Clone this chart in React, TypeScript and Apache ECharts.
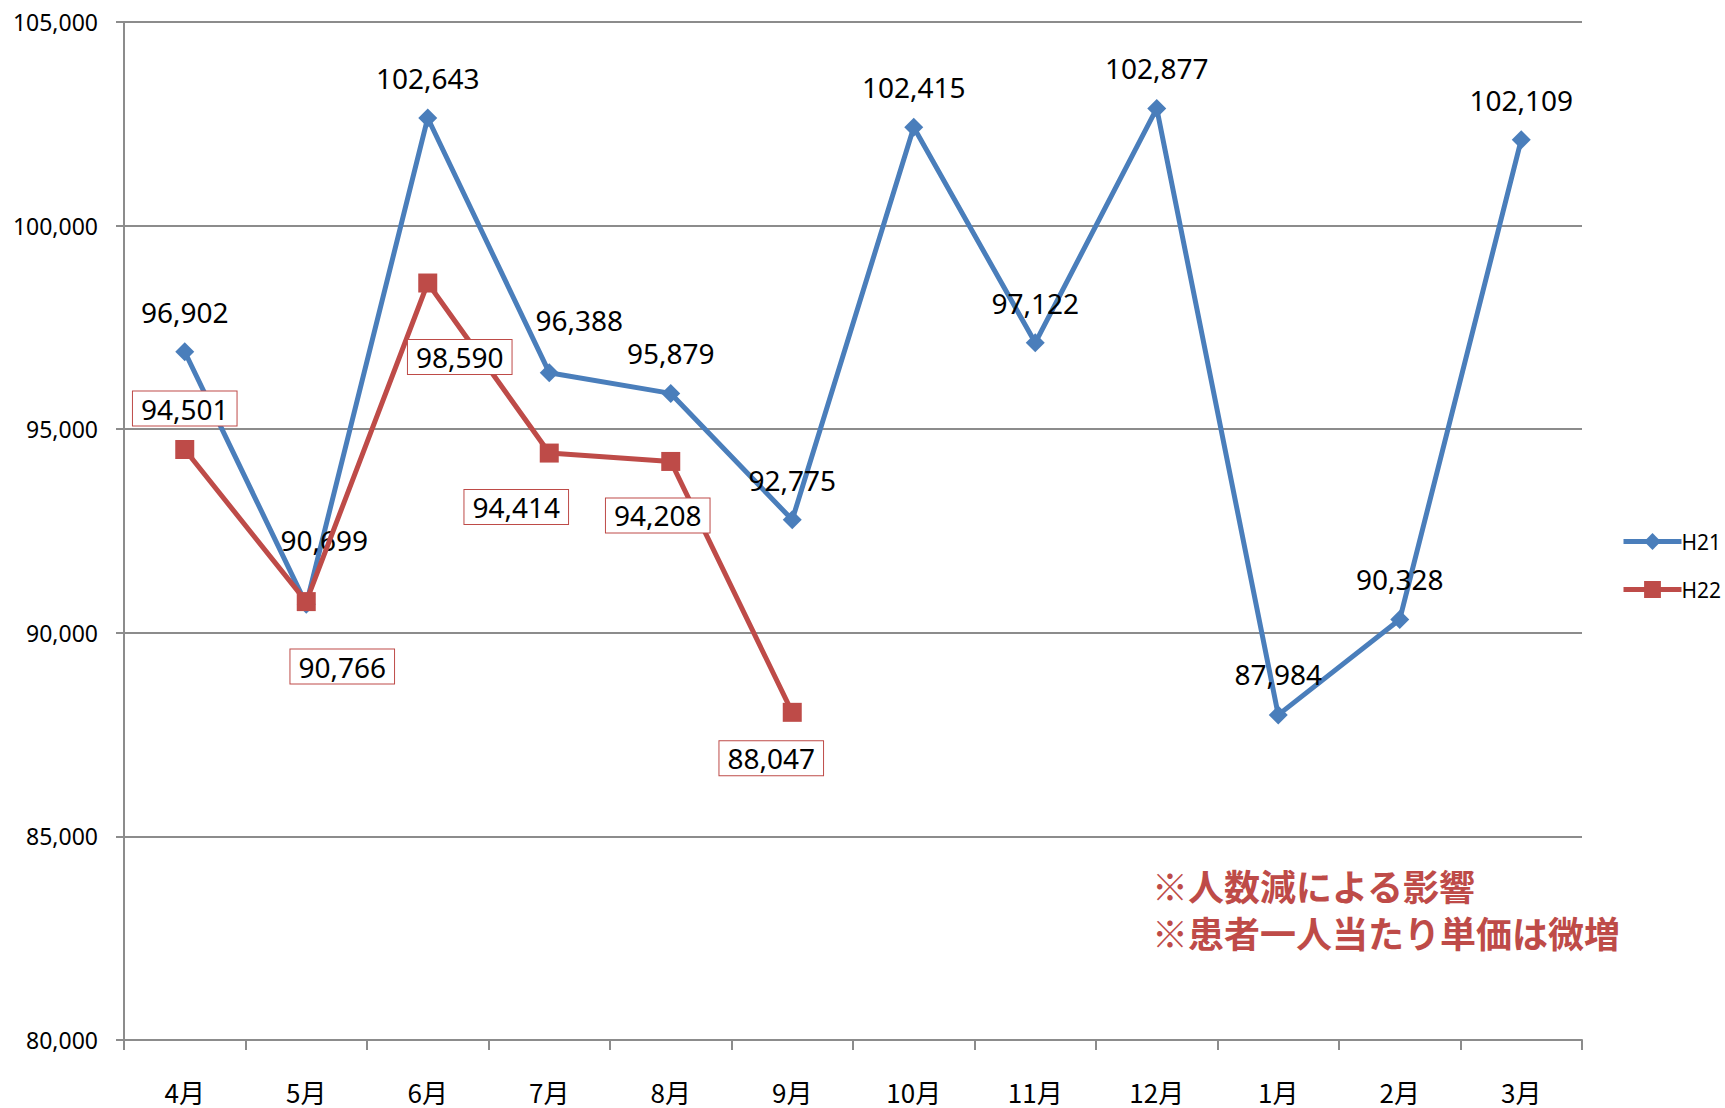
import React, { useEffect, useRef } from "react";
import * as echarts from "echarts";

// Monthly figures, fiscal year order (April → March)
const months = ["4月", "5月", "6月", "7月", "8月", "9月", "10月", "11月", "12月", "1月", "2月", "3月"];
const h21Values = [96902, 90699, 102643, 96388, 95879, 92775, 102415, 97122, 102877, 87984, 90328, 102109];
const h22Values = [94501, 90766, 98590, 94414, 94208, 88047];
const seriesNames = ["H21", "H22"];
const yTicks = { min: 80000, max: 105000, interval: 5000 };
const noteLines = ["※人数減による影響", "※患者一人当たり単価は微増"];

// Label placement per point, relative to the marker centre
const h21LabelOffsets: [number, number][] = [
  [0, -40], [18, -64], [0, -40], [30, -53], [0, -40], [0, -40],
  [0, -40], [0, -40], [0, -40], [0, -41], [0, -40], [0, -40],
];
const h22LabelOffsets: [number, number][] = [
  [0, -41], [36, 65], [32, 74], [-33, 54], [-13, 54], [-21, 46],
];

const BLUE = "#4A7EBB";
const RED = "#BE4B48";
const GRID_GRAY = "#8C8C8C";

const fmt = (v: number) => v.toLocaleString("en-US");

export default function App() {
  const ref = useRef<HTMLDivElement>(null);

  useEffect(() => {
    document.body.style.margin = "0";
    if (!ref.current) return;
    const chart = echarts.init(ref.current, undefined, { renderer: "svg" });

    const numFont = "'Noto Sans', 'DejaVu Sans', sans-serif";
    const cjkFont = "'Noto Sans CJK JP', 'Noto Sans', sans-serif";

    chart.setOption({
      animation: false,
      backgroundColor: "#ffffff",
      grid: { left: 124, right: 143, top: 22, bottom: 68, containLabel: false },
      legend: {
        orient: "vertical",
        left: 1616,
        top: 526,
        itemWidth: 58,
        itemHeight: 21,
        itemGap: 27,
        lineStyle: { width: 5 },
        textStyle: { fontFamily: numFont, fontSize: 21, color: "#000", padding: [0, 0, 0, -5] },
        data: seriesNames.map((name) => ({ name, lineStyle: { width: 5 } })),
      },
      xAxis: {
        type: "category",
        data: months,
        boundaryGap: true,
        axisLine: { lineStyle: { color: GRID_GRAY, width: 2 } },
        axisTick: { show: true, length: 10, lineStyle: { color: GRID_GRAY, width: 2 } },
        axisLabel: { fontFamily: cjkFont, fontSize: 26, color: "#000", margin: 38 },
        splitLine: { show: false },
      },
      yAxis: {
        type: "value",
        min: yTicks.min,
        max: yTicks.max,
        interval: yTicks.interval,
        axisLine: { show: true, lineStyle: { color: GRID_GRAY, width: 2 } },
        axisTick: { show: true, length: 8, lineStyle: { color: GRID_GRAY, width: 2 } },
        axisLabel: {
          fontFamily: numFont,
          fontSize: 23,
          color: "#000",
          margin: 26,
          formatter: (v: number) => fmt(v),
        },
        splitLine: { show: true, lineStyle: { color: GRID_GRAY, width: 2 } },
      },
      series: [
        {
          name: seriesNames[0],
          type: "line",
          data: h21Values.map((v, i) => ({
            value: v,
            label: { offset: h21LabelOffsets[i] },
          })),
          symbol: "diamond",
          symbolSize: 19,
          itemStyle: { color: BLUE },
          lineStyle: { color: BLUE, width: 5 },
          z: 3,
          label: {
            show: true,
            position: "inside",
            fontFamily: numFont,
            fontSize: 28,
            color: "#000",
            formatter: (p: any) => fmt(p.value),
          },
        },
        {
          name: seriesNames[1],
          type: "line",
          data: h22Values.map((v, i) => ({
            value: v,
            label: { offset: h22LabelOffsets[i] },
          })),
          symbol: "rect",
          symbolSize: 19,
          itemStyle: { color: RED },
          lineStyle: { color: RED, width: 5 },
          z: 4,
          label: {
            show: true,
            position: "inside",
            fontFamily: numFont,
            fontSize: 28,
            color: "#000",
            backgroundColor: "#ffffff",
            borderColor: RED,
            borderWidth: 1,
            padding: [3, 8, 3, 8],
            formatter: (p: any) => fmt(p.value),
          },
        },
      ],
      graphic: noteLines.map((t, i) => ({
        type: "text",
        x: 1152,
        y: 885 + i * 47,
        z: 10,
        style: {
          text: t,
          fill: RED,
          font: `bold 36px ${cjkFont}`,
          verticalAlign: "middle",
        },
      })),
    });

    return () => chart.dispose();
  }, []);

  return <div ref={ref} style={{ width: 1725, height: 1108 }} />;
}
